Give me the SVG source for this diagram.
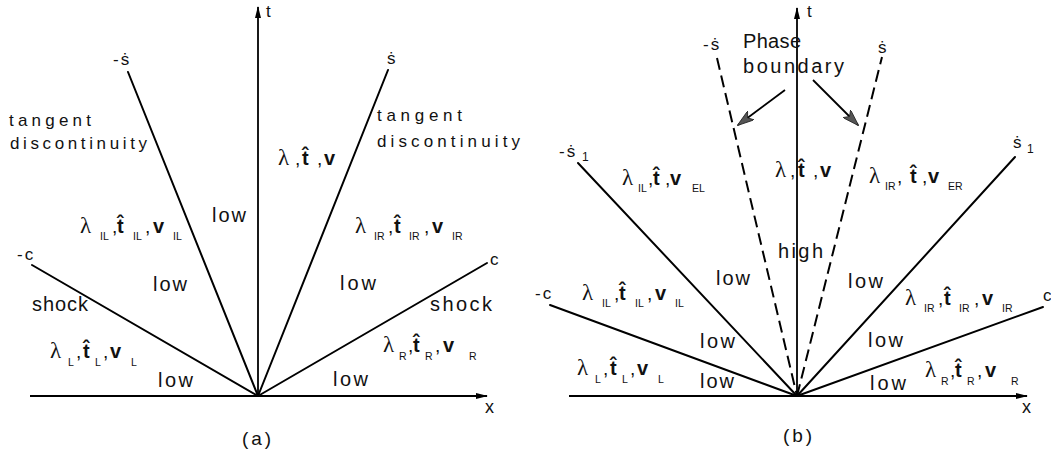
<svg xmlns="http://www.w3.org/2000/svg" width="1051" height="457" viewBox="0 0 1051 457">
<style>
.ln{stroke:#000;stroke-width:2;fill:none;stroke-linecap:round}
.ax{stroke:#000;stroke-width:1.8;fill:none}
.dash{stroke-dasharray:12 6;stroke-linecap:butt}
.ga{stroke:#000;stroke-width:1.8;fill:none}
text{font-family:"Liberation Sans",Arial,"DejaVu Sans",sans-serif;fill:#111}
.lab{font-size:20px}
.sm{font-size:17px}
.lam{font-family:"Liberation Serif","Times New Roman",serif;font-size:23px}
.b{font-weight:bold;font-size:20px}
.cm{font-size:19px}
.sub{font-size:10.5px}
.cap{font-size:19px;text-anchor:middle}
</style>
<defs>
<marker id="ah" markerWidth="12" markerHeight="8" refX="11" refY="4" orient="auto" markerUnits="userSpaceOnUse"><path d="M0,1 L12,4 L0,7 z" fill="#000"/></marker>
<marker id="gh" markerWidth="17" markerHeight="11" refX="16" refY="5.5" orient="auto" markerUnits="userSpaceOnUse"><path d="M0,0 L17,5.5 L0,11 L4,5.5 z" fill="#555" stroke="#222" stroke-width="0.8"/></marker>
</defs>

<g id="connectors">
<line class="ax" x1="30" y1="396" x2="487" y2="396" marker-end="url(#ah)"/>
<line class="ax" x1="258" y1="396" x2="258" y2="7" marker-end="url(#ah)"/>
<line class="ln" x1="32" y1="265" x2="258" y2="396"/>
<line class="ln" x1="258" y1="396" x2="487" y2="263"/>
<line class="ln" x1="128" y1="72" x2="258" y2="396"/>
<line class="ln" x1="258" y1="396" x2="388" y2="70"/>
<line class="ax" x1="569" y1="396" x2="1027" y2="396" marker-end="url(#ah)"/>
<line class="ax" x1="797" y1="396" x2="797" y2="8" marker-end="url(#ah)"/>
<line class="ln" x1="550" y1="305" x2="797" y2="396"/>
<line class="ln" x1="797" y1="396" x2="1043" y2="307"/>
<line class="ln" x1="578" y1="163" x2="797" y2="396"/>
<line class="ln" x1="797" y1="396" x2="1015" y2="157"/>
<line class="ln dash" x1="717" y1="58" x2="797" y2="396"/>
<line class="ln dash" x1="797" y1="396" x2="882" y2="57"/>
<line class="ga" x1="785" y1="90" x2="738" y2="125" marker-end="url(#gh)"/>
<line class="ga" x1="813" y1="80" x2="858" y2="125" marker-end="url(#gh)"/>
</g>

<g id="panel-a-labels">
<text class="sm" x="266" y="17">t</text>
<text class="sm" x="113" y="65" letter-spacing="2">-ṡ</text>
<text class="sm" x="387" y="64">ṡ</text>
<text class="sm" x="9" y="126" textLength="82" lengthAdjust="spacing">tangent</text>
<text class="sm" x="10" y="149" textLength="137" lengthAdjust="spacing">discontinuity</text>
<text class="sm" x="377" y="121" textLength="85" lengthAdjust="spacing">tangent</text>
<text class="sm" x="377" y="147" textLength="143" lengthAdjust="spacing">discontinuity</text>
<text class="lab" x="212" y="222" textLength="34" lengthAdjust="spacing">low</text>
<text class="lab" x="153" y="291" textLength="34" lengthAdjust="spacing">low</text>
<text class="lab" x="158" y="387" textLength="35" lengthAdjust="spacing">low</text>
<text class="lab" x="340" y="290" textLength="36" lengthAdjust="spacing">low</text>
<text class="lab" x="333" y="386" textLength="35" lengthAdjust="spacing">low</text>
<text class="lab" x="32" y="311" textLength="56" lengthAdjust="spacing">shock</text>
<text class="lab" x="430" y="311" textLength="62" lengthAdjust="spacing">shock</text>
<text class="sm" x="17" y="260" letter-spacing="2">-c</text>
<text class="sm" x="490" y="265">c</text>
<text class="lab" x="485" y="413" style="font-size:18px">x</text>
<text class="cap" x="258" y="445" letter-spacing="3">(a)</text>

<text y="165"><tspan class="lam" x="278">λ</tspan><tspan class="cm" x="295">,</tspan><tspan class="b" x="302">t̂</tspan><tspan class="cm" x="317">,</tspan><tspan class="b" x="324">v</tspan></text>

<text y="233"><tspan class="lam" x="80">λ</tspan><tspan class="sub" x="100" y="240">IL</tspan><tspan class="cm" x="112" y="233">,</tspan><tspan class="b" x="117">t̂</tspan><tspan class="sub" x="133" y="240">IL</tspan><tspan class="cm" x="145" y="233">,</tspan><tspan class="b" x="153">v</tspan><tspan class="sub" x="173" y="240">IL</tspan></text>

<text y="233"><tspan class="lam" x="355">λ</tspan><tspan class="sub" x="374" y="240">IR</tspan><tspan class="cm" x="388" y="233">,</tspan><tspan class="b" x="394">t̂</tspan><tspan class="sub" x="409" y="240">IR</tspan><tspan class="cm" x="424" y="233">,</tspan><tspan class="b" x="432">v</tspan><tspan class="sub" x="452" y="240">IR</tspan></text>

<text y="358"><tspan class="lam" x="50">λ</tspan><tspan class="sub" x="68" y="366">L</tspan><tspan class="cm" x="76" y="358">,</tspan><tspan class="b" x="83">t̂</tspan><tspan class="sub" x="95" y="366">L</tspan><tspan class="cm" x="103" y="358">,</tspan><tspan class="b" x="110">v</tspan><tspan class="sub" x="131" y="366">L</tspan></text>

<text y="352"><tspan class="lam" x="383">λ</tspan><tspan class="sub" x="399" y="360">R</tspan><tspan class="cm" x="408" y="352">,</tspan><tspan class="b" x="413">t̂</tspan><tspan class="sub" x="425" y="360">R</tspan><tspan class="cm" x="435" y="352">,</tspan><tspan class="b" x="443">v</tspan><tspan class="sub" x="469" y="360">R</tspan></text>
</g>

<g id="panel-b-labels">
<text class="sm" x="807" y="17">t</text>
<text class="sm" x="703" y="50" letter-spacing="2">-ṡ</text>
<text class="sm" x="878" y="53">ṡ</text>
<text class="sm" x="559" y="157" letter-spacing="2">-ṡ<tspan class="sub" x="582" y="161" style="font-size:12px">1</tspan></text>
<text class="sm" x="1013" y="148">ṡ<tspan class="sub" x="1027" y="153" style="font-size:12px">1</tspan></text>
<text class="lab" x="743" y="48" textLength="58" lengthAdjust="spacing">Phase</text>
<text class="lab" x="743" y="73" textLength="101" lengthAdjust="spacing">boundary</text>
<text class="lab" x="778" y="258" textLength="45" lengthAdjust="spacing">high</text>
<text class="lab" x="716" y="285" textLength="34" lengthAdjust="spacing">low</text>
<text class="lab" x="700" y="348" textLength="35" lengthAdjust="spacing">low</text>
<text class="lab" x="700" y="388" textLength="34" lengthAdjust="spacing">low</text>
<text class="lab" x="848" y="288" textLength="35" lengthAdjust="spacing">low</text>
<text class="lab" x="868" y="347" textLength="35" lengthAdjust="spacing">low</text>
<text class="lab" x="870" y="390" textLength="36" lengthAdjust="spacing">low</text>
<text class="sm" x="535" y="299" letter-spacing="2">-c</text>
<text class="sm" x="1043" y="301">c</text>
<text class="lab" x="1022" y="413" style="font-size:18px">x</text>
<text class="cap" x="799" y="442" letter-spacing="3">(b)</text>

<text y="185"><tspan class="lam" x="622">λ</tspan><tspan class="sub" x="638" y="192">IL</tspan><tspan class="cm" x="648" y="185">,</tspan><tspan class="b" x="653">t̂</tspan><tspan class="cm" x="665">,</tspan><tspan class="b" x="670">v</tspan><tspan class="sub" x="692" y="192">EL</tspan></text>

<text y="177"><tspan class="lam" x="775">λ</tspan><tspan class="cm" x="790">,</tspan><tspan class="b" x="798">t̂</tspan><tspan class="cm" x="813">,</tspan><tspan class="b" x="820">v</tspan></text>

<text y="183"><tspan class="lam" x="869">λ</tspan><tspan class="sub" x="885" y="190">IR</tspan><tspan class="cm" x="897" y="183">,</tspan><tspan class="b" x="910">t̂</tspan><tspan class="cm" x="922">,</tspan><tspan class="b" x="928">v</tspan><tspan class="sub" x="948" y="190">ER</tspan></text>

<text y="300"><tspan class="lam" x="582">λ</tspan><tspan class="sub" x="602" y="307">IL</tspan><tspan class="cm" x="614" y="300">,</tspan><tspan class="b" x="619">t̂</tspan><tspan class="sub" x="635" y="307">IL</tspan><tspan class="cm" x="647" y="300">,</tspan><tspan class="b" x="655">v</tspan><tspan class="sub" x="675" y="307">IL</tspan></text>

<text y="305"><tspan class="lam" x="905">λ</tspan><tspan class="sub" x="924" y="312">IR</tspan><tspan class="cm" x="938" y="305">,</tspan><tspan class="b" x="944">t̂</tspan><tspan class="sub" x="959" y="312">IR</tspan><tspan class="cm" x="974" y="305">,</tspan><tspan class="b" x="982">v</tspan><tspan class="sub" x="1002" y="312">IR</tspan></text>

<text y="375"><tspan class="lam" x="577">λ</tspan><tspan class="sub" x="595" y="383">L</tspan><tspan class="cm" x="603" y="375">,</tspan><tspan class="b" x="610">t̂</tspan><tspan class="sub" x="622" y="383">L</tspan><tspan class="cm" x="630" y="375">,</tspan><tspan class="b" x="637">v</tspan><tspan class="sub" x="658" y="383">L</tspan></text>

<text y="377"><tspan class="lam" x="925">λ</tspan><tspan class="sub" x="941" y="385">R</tspan><tspan class="cm" x="950" y="377">,</tspan><tspan class="b" x="955">t̂</tspan><tspan class="sub" x="967" y="385">R</tspan><tspan class="cm" x="977" y="377">,</tspan><tspan class="b" x="985">v</tspan><tspan class="sub" x="1011" y="385">R</tspan></text>
</g>
</svg>
